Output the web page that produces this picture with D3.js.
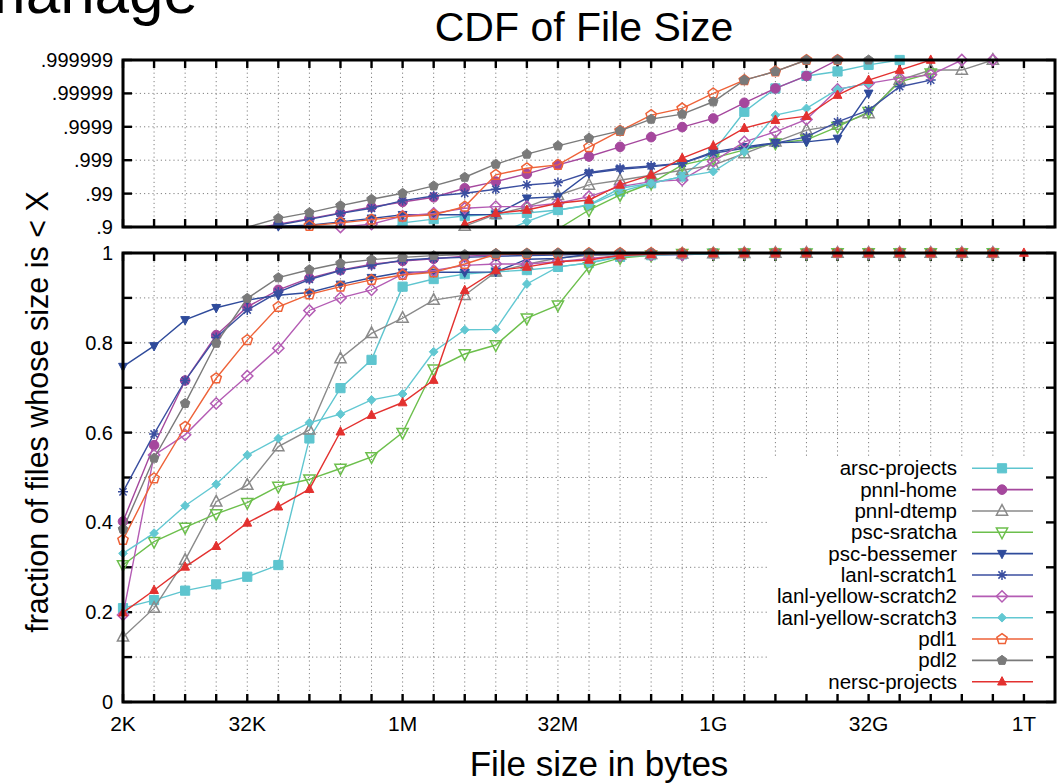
<!DOCTYPE html>
<html>
<head>
<meta charset="utf-8">
<script src="https://cdn.jsdelivr.net/npm/d3@7"></script>
<style>
  body { margin: 0; background: #fff; }
  svg { display: block; font-family: "Liberation Sans", Arial, Helvetica, sans-serif; }
</style>
</head>
<body>
<svg id="chart" width="1060" height="784"></svg>
<script>
// file size bins, as powers of two (2K .. 1T)
var sizeLog2 = [11,12,13,14,15,16,17,18,19,20,21,22,23,24,25,26,27,28,29,30,31,32,33,34,35,36,37,38,39,40];
var tickLog2 = [11, 15, 20, 25, 30, 35, 40];
var tickLabels = ['2K', '32K', '1M', '32M', '1G', '32G', '1T'];

var topTicks = [0.1, 0.01, 0.001, 0.0001, 0.00001, 0.000001];
var topTickLabels = ['.9', '.99', '.999', '.9999', '.99999', '.999999'];
var bottomTicks = [0, 0.1, 0.2, 0.3, 0.4, 0.5, 0.6, 0.7, 0.8, 0.9, 1];

var seriesNames = ['arsc-projects', 'pnnl-home', 'pnnl-dtemp', 'psc-sratcha', 'psc-bessemer', 'lanl-scratch1',
  'lanl-yellow-scratch2', 'lanl-yellow-scratch3', 'pdl1', 'pdl2', 'nersc-projects'];
var seriesColors = ['#5ec5cf', '#a5479d', '#8a8a8a', '#6cbf4c', '#2f4b9b', '#3b4fa0',
  '#b45cb4', '#62c8d2', '#ee6238', '#7a7a7a', '#e3312f'];
var seriesShapes = ['square', 'circle', 'triUpOpen', 'triDownOpen', 'triDown', 'star',
  'diamondOpen', 'diamond', 'pentagonOpen', 'pentagon', 'triUp'];

// fraction of files whose size is < X, one value per bin from 2K
var arscProjects = [0.209, 0.227, 0.248, 0.262, 0.279, 0.305, 0.587, 0.699, 0.762, 0.925, 0.942, 0.953, 0.958, 0.962,
  0.969, 0.9776, 0.9913, 0.9951, 0.99691, 0.999438, 0.9999645, 0.9999929, 0.999997, 0.9999978, 0.9999986, 0.999999, 1, 1, 1];
var pnnlHome = [0.402, 0.572, 0.716, 0.817, 0.880, 0.918, 0.944, 0.962, 0.9749, 0.9822, 0.9871, 0.99308, 0.99563, 0.99743,
  0.99862, 0.999224, 0.999602, 0.999796, 0.999898, 0.9999438, 0.9999809, 0.9999929, 0.999997, 0.999999, 1, 1, 1, 1, 1];
var pnnlDtemp = [0.145, 0.209, 0.316, 0.446, 0.483, 0.569, 0.606, 0.765, 0.821, 0.855, 0.895, 0.906, 0.958, 0.9749,
  0.9888, 0.9945, 0.99602, 0.99718, 0.998, 0.99859, 0.999369, 0.999718, 0.999874, 0.999911, 0.99996, 0.999996, 0.999998,
  0.999998, 0.999999];
var pscSratcha = [0.305, 0.357, 0.389, 0.419, 0.444, 0.480, 0.496, 0.520, 0.546, 0.600, 0.741, 0.775, 0.795, 0.855,
  0.884, 0.969, 0.989, 0.9951, 0.99862, 0.99913, 0.99951, 0.999691, 0.999755, 0.9999, 0.9999645, 0.9999955, 0.9999975, 1, 1];
var pscBessemer = [0.747, 0.793, 0.851, 0.878, 0.895, 0.906, 0.912, 0.930, 0.945, 0.957, 0.957, 0.957, 0.958, 0.9862,
  0.9877, 0.99755, 0.99814, 0.99842, 0.99877, 0.999438, 0.999602, 0.999698, 0.999718, 0.999776, 0.99999, 1, 1, 1, 1];
var lanlScratch1 = [0.468, 0.597, 0.716, 0.812, 0.873, 0.913, 0.941, 0.961, 0.9725, 0.9838, 0.98825, 0.99023, 0.99259,
  0.9945, 0.99532, 0.99766, 0.99826, 0.99852, 0.99877, 0.999383, 0.999563, 0.999691, 0.9998, 0.9999292, 0.9999684,
  0.9999937, 0.999996, 1, 1];
var lanlYellowScratch2 = [0.194, 0.55, 0.595, 0.665, 0.726, 0.788, 0.872, 0.900, 0.918, 0.953, 0.961, 0.9725, 0.9755,
  0.9755, 0.9805, 0.9877, 0.99383, 0.99563, 0.99611, 0.9989, 0.999718, 0.999859, 0.99994, 0.9999924, 0.999995, 0.9999965,
  0.9999972, 0.999999, 0.999999];
var lanlYellowScratch3 = [0.331, 0.376, 0.437, 0.485, 0.550, 0.587, 0.622, 0.641, 0.673, 0.686, 0.780, 0.829, 0.830,
  0.931, 0.969, 0.9781, 0.99308, 0.9951, 0.99691, 0.99781, 0.999438, 0.9999553, 0.9999718, 0.9999924, 0.999995, 1, 1, 1, 1];
var pdl1 = [0.361, 0.498, 0.613, 0.721, 0.806, 0.880, 0.908, 0.925, 0.940, 0.951, 0.957, 0.9755, 0.99725, 0.99826,
  0.99862, 0.999593, 0.999868, 0.9999553, 0.9999718, 0.99999, 0.999996, 0.9999978, 0.999999, 0.999999, 1, 1, 1, 1, 1];
var pdl2 = [0.385, 0.543, 0.665, 0.799, 0.899, 0.945, 0.9628, 0.9771, 0.9852, 0.9902, 0.9941, 0.99676, 0.99868, 0.99934,
  0.999628, 0.999781, 0.999868, 0.999941, 0.9999583, 0.9999822, 0.999996, 0.9999978, 0.999999, 0.999999, 0.999999, 1, 1, 1, 1];
var nerscProjects = [0.199, 0.249, 0.301, 0.347, 0.399, 0.435, 0.474, 0.602, 0.639, 0.667, 0.717, 0.917, 0.961, 0.969,
  0.9805, 0.9845, 0.9945, 0.99725, 0.99913, 0.999628, 0.99989, 0.999937, 0.999952, 0.9999888, 0.999996, 0.999998,
  0.999999, 1, 1, 1];

var seriesValues = [arscProjects, pnnlHome, pnnlDtemp, pscSratcha, pscBessemer, lanlScratch1,
  lanlYellowScratch2, lanlYellowScratch3, pdl1, pdl2, nerscProjects];

var svg = d3.select('#chart');
var left = 123, right = 1055;
var topPanel = {top: 60, bottom: 227};
var botPanel = {top: 253, bottom: 702};

var x = d3.scaleLog().base(2).domain([Math.pow(2, 11), Math.pow(2, 41)]).range([left, right]);
var yTop = d3.scaleLog().domain([0.1, 0.000001]).range([topPanel.bottom, topPanel.top]);
var yBot = d3.scaleLinear().domain([0, 1]).range([botPanel.bottom, botPanel.top]);
var binValues = sizeLog2.map(function(e){ return Math.pow(2, e); });

function markerPath(shape, r){
  var p;
  switch(shape){
    case 'square':
      return 'M' + (-r) + ',' + (-r) + 'h' + (2*r) + 'v' + (2*r) + 'h' + (-2*r) + 'Z';
    case 'circle':
      return 'M' + r + ',0A' + r + ',' + r + ' 0 1,1 ' + (-r) + ',0A' + r + ',' + r + ' 0 1,1 ' + r + ',0Z';
    case 'triUp': case 'triUpOpen':
      return 'M0,' + (-1.15*r) + 'L' + r + ',' + (0.75*r) + 'L' + (-r) + ',' + (0.75*r) + 'Z';
    case 'triDown': case 'triDownOpen':
      return 'M0,' + (1.15*r) + 'L' + r + ',' + (-0.75*r) + 'L' + (-r) + ',' + (-0.75*r) + 'Z';
    case 'diamond': case 'diamondOpen':
      return 'M0,' + (-r) + 'L' + r + ',0L0,' + r + 'L' + (-r) + ',0Z';
    case 'pentagon': case 'pentagonOpen':
      p = d3.range(5).map(function(k){
        var a = -Math.PI/2 + k*2*Math.PI/5;
        return [r*Math.cos(a), r*Math.sin(a)];
      });
      return 'M' + p.join('L') + 'Z';
    case 'star':
      var d = 0.72*r;
      return 'M' + (-r) + ',0H' + r + 'M0,' + (-r) + 'V' + r +
        'M' + (-d) + ',' + (-d) + 'L' + d + ',' + d + 'M' + d + ',' + (-d) + 'L' + (-d) + ',' + d;
  }
}
var markerSize = {square: 4.6, circle: 4.8, triUpOpen: 5.6, triDownOpen: 5.6, triDown: 4.4, star: 5,
  diamondOpen: 5.6, diamond: 4.4, pentagonOpen: 5.4, pentagon: 5, triUp: 4.4};

function drawMarker(g, shape, color, cx, cy){
  var open = /Open$/.test(shape) || shape == 'star';
  g.append('path')
    .attr('d', markerPath(shape, markerSize[shape]))
    .attr('transform', 'translate(' + cx + ',' + cy + ')')
    .style('fill', open ? 'none' : color)
    .style('stroke', color)
    .style('stroke-width', open ? 1.5 : 1);
}

// clip for the top panel lines
svg.append('defs').append('clipPath').attr('id', 'clipTop')
  .append('rect').attr('x', left).attr('y', topPanel.top)
  .attr('width', right - left).attr('height', topPanel.bottom - topPanel.top);

// grid
function grid(panel, yScale, yVals){
  var g = svg.append('g').attr('class', 'grid')
    .style('stroke', '#808080').style('stroke-width', 1).style('stroke-dasharray', '1.2,3');
  binValues.slice(1).forEach(function(v){
    g.append('line').attr('x1', x(v)).attr('x2', x(v)).attr('y1', panel.top).attr('y2', panel.bottom);
  });
  yVals.forEach(function(v){
    g.append('line').attr('x1', left).attr('x2', right).attr('y1', yScale(v)).attr('y2', yScale(v));
  });
}
grid(topPanel, yTop, topTicks.slice(1, -1));
grid(botPanel, yBot, bottomTicks.slice(1, -1));

// ticks on all four sides, pointing inwards
function ticks(panel, yScale, yVals){
  var g = svg.append('g').style('stroke', '#000').style('stroke-width', 2.4);
  binValues.forEach(function(v){
    g.append('line').attr('x1', x(v)).attr('x2', x(v)).attr('y1', panel.bottom).attr('y2', panel.bottom - 8);
    g.append('line').attr('x1', x(v)).attr('x2', x(v)).attr('y1', panel.top).attr('y2', panel.top + 8);
  });
  yVals.forEach(function(v){
    g.append('line').attr('x1', left).attr('x2', left + 9).attr('y1', yScale(v)).attr('y2', yScale(v));
    g.append('line').attr('x1', right).attr('x2', right - 9).attr('y1', yScale(v)).attr('y2', yScale(v));
  });
}
ticks(topPanel, yTop, topTicks);
ticks(botPanel, yBot, bottomTicks);

// series
var lineTop = d3.line()
  .defined(function(d){ return d.p < 1; })
  .x(function(d){ return x(d.size); })
  .y(function(d){ return yTop(1 - d.p); });
var lineBot = d3.line()
  .x(function(d){ return x(d.size); })
  .y(function(d){ return yBot(d.p); });

seriesValues.forEach(function(vals, s){
  var pts = vals.map(function(p, i){ return {size: binValues[i], p: p}; });
  var color = seriesColors[s], shape = seriesShapes[s];

  var gt = svg.append('g');
  gt.append('path').datum(pts).attr('d', lineTop).attr('clip-path', 'url(#clipTop)')
    .style('fill', 'none').style('stroke', color).style('stroke-width', 1.4);
  pts.forEach(function(d){
    var t = 1 - d.p;
    if(d.p < 1 && t <= 0.1001 && t >= 0.00000099) drawMarker(gt, shape, color, x(d.size), yTop(t));
  });

  var gb = svg.append('g');
  gb.append('path').datum(pts).attr('d', lineBot)
    .style('fill', 'none').style('stroke', color).style('stroke-width', 1.4);
  pts.forEach(function(d){ drawMarker(gb, shape, color, x(d.size), yBot(d.p)); });
});

// frames
[topPanel, botPanel].forEach(function(panel){
  svg.append('rect').attr('x', left).attr('y', panel.top)
    .attr('width', right - left).attr('height', panel.bottom - panel.top)
    .style('fill', 'none').style('stroke', '#000').style('stroke-width', 3);
});

// tick labels
svg.append('g').selectAll('text').data(tickLog2).join('text')
  .attr('x', function(e){ return x(Math.pow(2, e)); })
  .attr('y', 731)
  .attr('text-anchor', 'middle')
  .style('font-size', '21px')
  .text(function(e, i){ return tickLabels[i]; });

svg.append('g').selectAll('text').data(topTicks).join('text')
  .attr('x', 113).attr('y', function(v){ return yTop(v) + 7; })
  .attr('text-anchor', 'end')
  .style('font-size', '20px')
  .text(function(v, i){ return topTickLabels[i]; });

svg.append('g').selectAll('text').data([0, 0.2, 0.4, 0.6, 0.8, 1]).join('text')
  .attr('x', 113).attr('y', function(v){ return yBot(v) + 7; })
  .attr('text-anchor', 'end')
  .style('font-size', '20px')
  .text(function(v){ return d3.format('~g')(v); });

// titles
svg.append('text').attr('x', 584).attr('y', 41).attr('text-anchor', 'middle')
  .style('font-size', '41px').text('CDF of File Size');
svg.append('text').attr('x', 599).attr('y', 776).attr('text-anchor', 'middle')
  .style('font-size', '35px').text('File size in bytes');
svg.append('text').attr('transform', 'translate(48,412) rotate(-90)').attr('text-anchor', 'middle')
  .style('font-size', '30.5px').text('fraction of files whose size is < X');
// slide heading cut off at the top of the screenshot
svg.append('text').attr('x', -26).attr('y', 13).style('font-size', '62px').text('manage');

// legend (opaque)
var legend = svg.append('g');
legend.append('rect').attr('x', 768).attr('y', 456).attr('width', 277).attr('height', 238).style('fill', '#fff');
seriesNames.forEach(function(name, s){
  var ly = 468.3 + 21.34 * s;
  legend.append('text').attr('x', 957).attr('y', ly + 7).attr('text-anchor', 'end')
    .style('font-size', '20.5px').text(name);
  legend.append('line').attr('x1', 972).attr('x2', 1033).attr('y1', ly).attr('y2', ly)
    .style('stroke', seriesColors[s]).style('stroke-width', 1.6);
  drawMarker(legend, seriesShapes[s], seriesColors[s], 1002, ly);
});
</script>
</body>
</html>
